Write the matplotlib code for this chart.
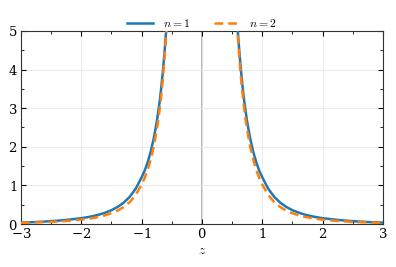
import matplotlib
matplotlib.use("Agg")
import matplotlib.pyplot as plt
from matplotlib.ticker import MultipleLocator

# Data (left and right branches)
z_left = [-3.0, -2.8, -2.6, -2.4, -2.2, -2.0, -1.9, -1.8, -1.7, -1.6, -1.5, -1.4, -1.3,
          -1.2, -1.1, -1.0, -0.95, -0.9, -0.85, -0.8, -0.75, -0.72, -0.7, -0.68, -0.65,
          -0.62, -0.6, -0.59, -0.58]
n1_left = [0.036, 0.048, 0.064, 0.085, 0.114, 0.151, 0.176, 0.207, 0.246, 0.295, 0.358,
           0.44, 0.55, 0.70, 0.91, 1.21, 1.38, 1.60, 1.87, 2.21, 2.64, 2.96, 3.19, 3.46,
           3.92, 4.46, 4.87, 5.10, 5.36]
n2_left = [0.031, 0.039, 0.049, 0.0635, 0.0835, 0.113, 0.132, 0.157, 0.188, 0.227, 0.279,
           0.346, 0.437, 0.563, 0.75, 1.02, 1.19, 1.40, 1.67, 2.0, 2.43, 2.74, 2.99, 3.26,
           3.73, 4.30, 4.74, 4.99, 5.25]

z_right = [0.58, 0.59, 0.6, 0.62, 0.65, 0.68, 0.7, 0.72, 0.75, 0.8, 0.85, 0.9, 0.95, 1.0,
           1.1, 1.2, 1.3, 1.4, 1.5, 1.6, 1.7, 1.8, 1.9, 2.0, 2.2, 2.4, 2.6, 2.8, 3.0]
n1_right = [5.36, 5.10, 4.87, 4.46, 3.92, 3.46, 3.19, 2.96, 2.64, 2.21, 1.87, 1.60, 1.38,
            1.21, 0.91, 0.70, 0.55, 0.44, 0.358, 0.295, 0.246, 0.207, 0.176, 0.151, 0.114,
            0.085, 0.064, 0.048, 0.036]
n2_right = [5.25, 4.99, 4.74, 4.30, 3.73, 3.26, 2.99, 2.74, 2.43, 2.0, 1.67, 1.40, 1.19,
            1.02, 0.75, 0.563, 0.437, 0.346, 0.279, 0.227, 0.188, 0.157, 0.132, 0.113,
            0.0835, 0.0635, 0.049, 0.039, 0.031]

labels = [r"$n=1$", r"$n=2$"]
colors = ["#1f77b4", "#ff7f0e"]

plt.rcParams["mathtext.fontset"] = "cm"
plt.rcParams["font.family"] = "serif"
plt.rcParams["font.serif"] = ["DejaVu Serif"]
plt.rcParams["axes.formatter.use_mathtext"] = True

fig = plt.figure(figsize=(3.96, 2.67), dpi=100)
ax = fig.add_axes([0.053, 0.161, 0.914, 0.723])

ax.axvline(0, color="#aaaaaa", lw=1.2, zorder=1)
ax.plot(z_left, n1_left, color=colors[0], lw=1.8, label=labels[0], zorder=3)
ax.plot(z_right, n1_right, color=colors[0], lw=1.8, zorder=3)
ax.plot(z_left, n2_left, color=colors[1], lw=1.8, ls=(0, (3.5, 2)), label=labels[1], zorder=4)
ax.plot(z_right, n2_right, color=colors[1], lw=1.8, ls=(0, (3.5, 2)), zorder=4)

ax.set_xlim(-3, 3)
ax.set_ylim(0, 5)
ax.xaxis.set_major_locator(MultipleLocator(1))
ax.xaxis.set_minor_locator(MultipleLocator(0.5))
ax.yaxis.set_major_locator(MultipleLocator(1))
ax.yaxis.set_minor_locator(MultipleLocator(0.5))
ax.tick_params(which="both", direction="in", top=True, right=True, labelsize=9.5)
ax.tick_params(which="major", length=3.5, width=0.8, pad=2.5)
ax.tick_params(which="minor", length=2, width=0.6)
ax.grid(True, which="major", color="#e6e6e6", lw=0.6, zorder=0)
for s in ax.spines.values():
    s.set_linewidth(0.8)
    s.set_color("#333333")

ax.set_xlabel(r"$z$", fontsize=9.5, labelpad=2)
ax.legend(loc="lower center", bbox_to_anchor=(0.5, 0.98), ncol=2, frameon=False,
          fontsize=8.5, handlelength=2.2, columnspacing=2.0, borderaxespad=0.0)

fig.savefig("out.png", dpi=100)
